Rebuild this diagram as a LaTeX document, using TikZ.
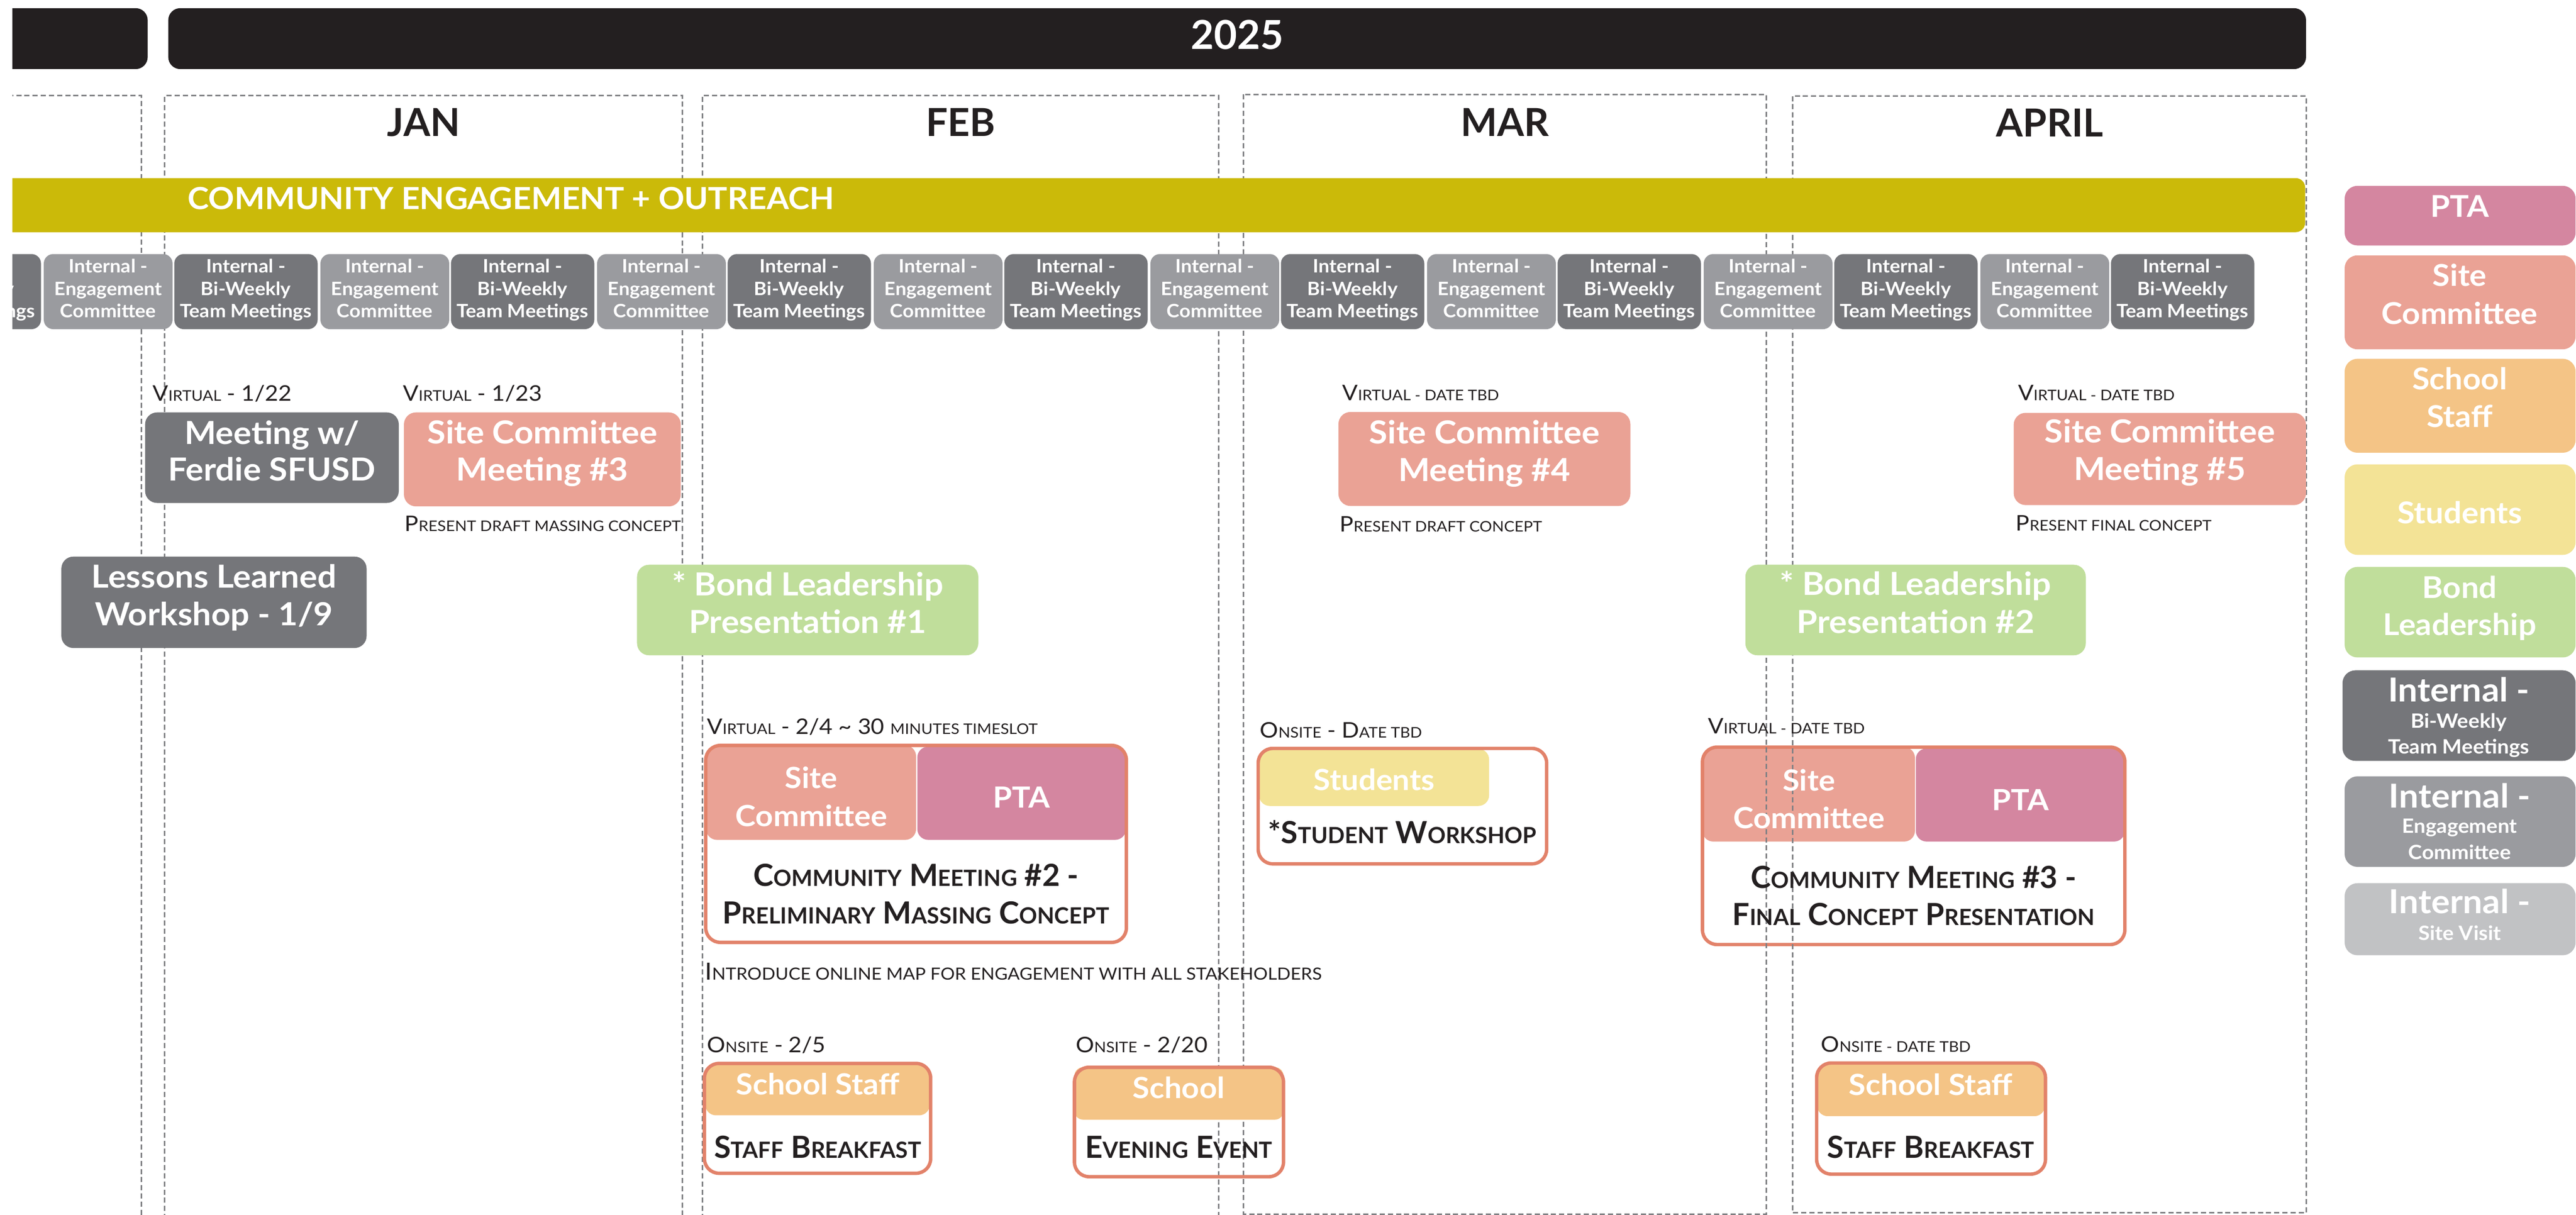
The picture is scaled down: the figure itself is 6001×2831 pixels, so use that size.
\documentclass[tikz,border=0pt]{standalone}
\usepackage{fontspec}
\setmainfont{Lato}[FakeStretch=1.07, BoldFeatures={FakeStretch=1.0}]
\newfontfamily\fw{Lato}[FakeStretch=1.055]
\definecolor{barblack}{RGB}{35,31,32}
\definecolor{olive}{RGB}{203,186,9}
\definecolor{gdark}{RGB}{117,118,122}
\definecolor{glight}{RGB}{154,155,159}
\definecolor{gpale}{RGB}{193,194,196}
\definecolor{salmon}{RGB}{234,162,149}
\definecolor{ptapink}{RGB}{212,134,160}
\definecolor{staffor}{RGB}{244,196,134}
\definecolor{studyel}{RGB}{243,227,150}
\definecolor{bondgr}{RGB}{192,222,155}
\definecolor{bordor}{RGB}{226,130,106}
\definecolor{dashgr}{RGB}{128,129,132}
\definecolor{txtblk}{RGB}{35,31,32}
\newcommand\sm[1]{{\fontsize{34}{40}\selectfont\MakeUppercase{#1}}}
\newcommand\smL[1]{{\fontsize{39}{46}\selectfont\MakeUppercase{#1}}}
\newcommand\smb[1]{{\fontsize{52}{60}\selectfont\MakeUppercase{#1}}}
\tikzset{
  monthbox/.style={draw=dashgr, line width=3.5pt, dash pattern=on 12pt off 7pt},
  lbl/.style={anchor=base west, inner sep=0pt, text=txtblk, font=\fontsize{50}{60}\selectfont},
  lblbig/.style={anchor=base west, inner sep=0pt, text=txtblk, font=\fontsize{55}{64}\selectfont},
  wtitle/.style={anchor=base, inner sep=0pt, text=white, font=\fw\bfseries\fontsize{74}{85}\selectfont},
  htitle/.style={anchor=base, inner sep=0pt, text=white, font=\fw\bfseries\fontsize{68}{80}\selectfont},
  btitle/.style={anchor=base, inner sep=0pt, text=txtblk, font=\bfseries\fontsize{71}{80}\selectfont},
  gtxt/.style={anchor=base, inner sep=0pt, text=white, font=\fw\bfseries\fontsize{43}{50}\selectfont},
  monthlbl/.style={anchor=base, inner sep=0pt, text=txtblk, font=\bfseries\fontsize{90}{100}\selectfont},
  evbox/.style={rounded corners=28pt},
  subbox/.style={rounded corners=25pt},
  outline/.style={draw=bordor, line width=8pt, rounded corners=34pt},
  legbox/.style={rounded corners=30pt},
  legtxt/.style={anchor=base, inner sep=0pt, text=white, font=\fw\bfseries\fontsize{70}{80}\selectfont},
  legbig/.style={anchor=base, inner sep=0pt, text=white, font=\fw\bfseries\fontsize{77}{85}\selectfont},
  legsmall/.style={anchor=base, inner sep=0pt, text=white, font=\fw\bfseries\fontsize{46}{52}\selectfont},
}
\begin{document}
\begin{tikzpicture}[x=1pt,y=-1pt]
\useasboundingbox (0,0) rectangle (6001,2831);
\begin{scope}
\clip (29,0) rectangle (6001,2831);
% month frames
\draw[monthbox] (0,223) -- (330,223) -- (330,2860);
\draw[monthbox] (384,2860) -- (384,223) -- (1590,223) -- (1590,2860);
\draw[monthbox] (1636,2860) -- (1636,223) -- (2839,223) -- (2839,2860);
\draw[monthbox] (2897,220) rectangle (4115,2829);
\draw[monthbox] (4176,224) rectangle (5373,2826);
% year bars
\fill[barblack, rounded corners=28pt] (-100,19) rectangle (344,161);
\fill[barblack, rounded corners=28pt] (392,19) rectangle (5372,161);
\node[anchor=base, inner sep=0pt, text=white, font=\bfseries\fontsize{93}{100}\selectfont] (y2025) at (2882,115) {2025};
% engagement band
\fill[olive, rounded corners=22pt] (-100,415) rectangle (5370,541);
\node[anchor=base west, inner sep=0pt, text=white, font=\fw\bfseries\fontsize{71}{80}\selectfont] (band) at (437,488) {COMMUNITY ENGAGEMENT + OUTREACH};
% internal meetings row
\foreach \i in {-1,...,7} {
  \pgfmathsetmacro{\xl}{102+644.5*\i}
  \pgfmathsetmacro{\xd}{406+644.5*\i}
  \fill[glight, rounded corners=22pt] (\xl,592) rectangle ++(300,175);
  \fill[gdark, rounded corners=22pt] (\xd,592) rectangle ++(334,175);
  \node[gtxt] (ea\i) at (\xl+150,635) {Internal -};
  \node[gtxt] (eb\i) at (\xl+150,688) {Engagement};
  \node[gtxt] (ec\i) at (\xl+150,740) {Committee};
  \node[gtxt] (ba\i) at (\xd+167,635) {Internal -};
  \node[gtxt] (bb\i) at (\xd+167,688) {Bi-Weekly};
  \node[gtxt] (bc\i) at (\xd+167,740) {Team Meetings};
}
% month labels
\node[monthlbl] (jan) at (987,318) {JAN};
\node[monthlbl] (feb) at (2238,318) {FEB};
\node[monthlbl] (mar) at (3506,317) {MAR};
\node[monthlbl] (apr) at (4775,319) {APRIL};
% JAN events
\node[lbl] (l1) at (356,934) {V\sm{irtual} - 1/22};
\fill[gdark, evbox] (338,961) rectangle (929,1172);
\node[wtitle] (fer1) at (633.5,1035) {Meeting w/};
\node[wtitle] (fer2) at (633.5,1120) {Ferdie SFUSD};
\node[lbl] (l2) at (939,934) {V\sm{irtual} - 1/23};
\fill[salmon, evbox] (941,961) rectangle (1586,1180);
\node[wtitle] (sc3a) at (1263.5,1034) {Site Committee};
\node[wtitle] (sc3b) at (1263.5,1120) {Meeting \#3};
\node[lbl] (l3) at (943,1238) {P\sm{resent draft massing concept}};
\fill[gdark, evbox] (143,1297) rectangle (854,1510);
\node[wtitle] (ll1) at (498.5,1370) {Lessons Learned};
\node[wtitle] (ll2) at (498.5,1458) {Workshop - 1/9};
% FEB events
\fill[bondgr, evbox] (1484,1316) rectangle (2279,1527);
\node[wtitle] (bl1a) at (1881.5,1388) {* Bond Leadership};
\node[wtitle] (bl1b) at (1881.5,1476) {Presentation \#1};
\node[lbl] (l4) at (1647,1711) {V\sm{irtual} - 2/4 \textasciitilde{} 30 \sm{minutes timeslot}};
\fill[salmon, subbox] (1645,1737) rectangle (2134,1957);
\fill[ptapink, subbox] (2137,1740) rectangle (2623,1957);
\draw[outline] (1644,1737) rectangle (2624,2196);
\node[htitle] (cm2a) at (1890,1837) {Site};
\node[htitle] (cm2b) at (1890,1926) {Committee};
\node[htitle] (cm2c) at (2380,1883) {PTA};
\node[btitle] (cm2d) at (2134,2065) {C\smb{ommunity} M\smb{eeting} \#2 -};
\node[btitle] (cm2e) at (2134,2153) {P\smb{reliminary} M\smb{assing} C\smb{oncept}};
\node[lblbig] (l5) at (1642,2283) {I\smL{ntroduce online map for engagement with all stakeholders}};
\node[lbl] (l6) at (1647,2452) {O\sm{nsite} - 2/5};
\fill[staffor, subbox] (1643,2480) rectangle (2166,2599);
\draw[outline] (1641,2478) rectangle (2168,2734);
\node[htitle] (ss1a) at (1905,2551) {School Staff};
\node[btitle] (ss1b) at (1905,2699) {S\smb{taff} B\smb{reakfast}};
\node[lbl] (l7) at (2506,2452) {O\sm{nsite} - 2/20};
\fill[staffor, rounded corners=20pt] (2503,2487) rectangle (2990,2609);
\draw[outline] (2503,2487) rectangle (2990,2742);
\node[htitle] (ev1) at (2746,2559) {School};
\node[btitle] (ev2) at (2746,2699) {E\smb{vening} E\smb{vent}};
% MAR events
\node[lbl] (l8) at (3127,933) {V\sm{irtual - date tbd}};
\fill[salmon, evbox] (3118,960) rectangle (3798,1179);
\node[wtitle] (sc4a) at (3458,1034) {Site Committee};
\node[wtitle] (sc4b) at (3458,1121) {Meeting \#4};
\node[lbl] (l9) at (3121,1239) {P\sm{resent draft concept}};
\node[lbl] (l10) at (2935,1719) {O\sm{nsite} - D\sm{ate tbd}};
\fill[studyel, subbox] (2933,1745) rectangle (3469,1878);
\draw[outline] (2931,1744) rectangle (3603,2013);
\node[htitle] (sw1) at (3201,1842) {Students};
\node[btitle] (sw2) at (3267,1965) {*S\smb{tudent} W\smb{orkshop}};
% APRIL events
\fill[bondgr, evbox] (4066,1316) rectangle (4859,1527);
\node[wtitle] (bl2a) at (4462.5,1387) {* Bond Leadership};
\node[wtitle] (bl2b) at (4462.5,1476) {Presentation \#2};
\node[lbl] (l11) at (3979,1710) {V\sm{irtual - date tbd}};
\fill[salmon, subbox] (3966,1741) rectangle (4461,1961);
\fill[ptapink, subbox] (4463,1744) rectangle (4950,1961);
\draw[outline] (3966,1741) rectangle (4950,2201);
\begin{scope}
\clip (3960,1735) rectangle (4960,2210);
\draw[monthbox] (2897,220) rectangle (4115,2829);
\draw[monthbox] (4176,224) rectangle (5373,2826);
\end{scope}
\node[htitle] (cm3a) at (4214,1843) {Site};
\node[htitle] (cm3b) at (4214,1931) {Committee};
\node[htitle] (cm3c) at (4707,1888) {PTA};
\node[btitle] (cm3d) at (4458,2070) {C\smb{ommunity} M\smb{eeting} \#3 -};
\node[btitle] (cm3e) at (4458,2156) {F\smb{inal} C\smb{oncept} P\smb{resentation}};
\node[lbl] (l12) at (4701,933) {V\sm{irtual - date tbd}};
\fill[salmon, evbox] (4691,962) rectangle (5372,1177);
\node[wtitle] (sc5a) at (5031.5,1032) {Site Committee};
\node[wtitle] (sc5b) at (5031.5,1119) {Meeting \#5};
\node[lbl] (l13) at (4696,1237) {P\sm{resent final concept}};
\node[lbl] (l14) at (4242,2451) {O\sm{nsite - date tbd}};
\fill[staffor, subbox] (4233,2478) rectangle (4764,2601);
\draw[outline] (4232,2477) rectangle (4765,2736);
\node[htitle] (ss2a) at (4498,2552) {School Staff};
\node[btitle] (ss2b) at (4498,2699) {S\smb{taff} B\smb{reakfast}};
\end{scope}
% legend
\fill[ptapink, legbox] (5462,433) rectangle (6000,572);
\node[legtxt] (lg1) at (5730,506) {PTA};
\fill[salmon, legbox] (5462,595) rectangle (6000,814);
\node[legtxt] (lg2a) at (5730,667) {Site};
\node[legtxt] (lg2b) at (5730,755) {Committee};
\fill[staffor, legbox] (5462,836) rectangle (6000,1055);
\node[legtxt] (lg3a) at (5730,908) {School};
\node[legtxt] (lg3b) at (5730,995) {Staff};
\fill[studyel, legbox] (5462,1082) rectangle (6000,1293);
\node[legtxt] (lg4) at (5730,1220) {Students};
\fill[bondgr, legbox] (5462,1321) rectangle (6000,1532);
\node[legtxt] (lg5a) at (5730,1394) {Bond};
\node[legtxt] (lg5b) at (5730,1481) {Leadership};
\fill[gdark, legbox] (5457,1562) rectangle (6000,1773);
\node[legbig] (lg6a) at (5728,1635) {Internal -};
\node[legsmall] (lg6b) at (5728,1696) {Bi-Weekly};
\node[legsmall] (lg6c) at (5728,1756) {Team Meetings};
\fill[glight, legbox] (5462,1809) rectangle (6000,2020);
\node[legbig] (lg7a) at (5730,1882) {Internal -};
\node[legsmall] (lg7b) at (5730,1941) {Engagement};
\node[legsmall] (lg7c) at (5730,2003) {Committee};
\fill[gpale, legbox] (5462,2058) rectangle (6000,2226);
\node[legbig] (lg8a) at (5730,2129) {Internal -};
\node[legsmall] (lg8b) at (5730,2191) {Site Visit};
\end{tikzpicture}
\end{document}
